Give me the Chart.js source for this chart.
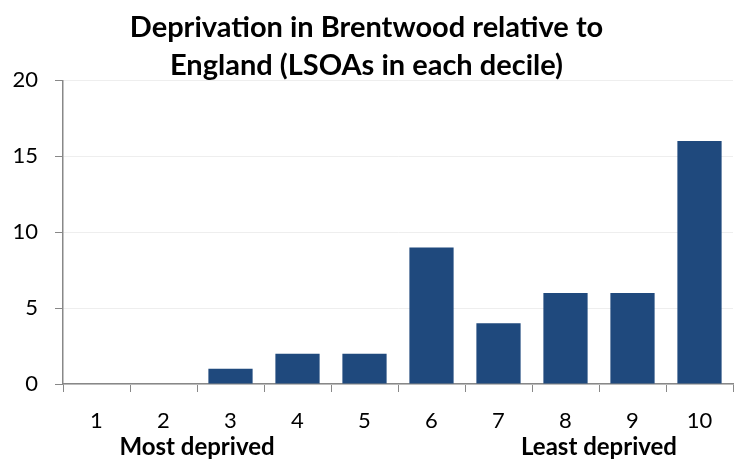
<!DOCTYPE html>
<html>
<head>
<meta charset="utf-8">
<script src="https://cdn.jsdelivr.net/npm/chart.js@4"></script>
<style>
  html, body { margin: 0; padding: 0; background: #fff; }
  #wrap { width: 744px; height: 459px; }
</style>
</head>
<body>
<div id="wrap"><canvas id="decileChart"></canvas></div>
<script>
const deciles = ["1", "2", "3", "4", "5", "6", "7", "8", "9", "10"]
const lsoaCounts = [0, 0, 1, 2, 2, 9, 4, 6, 6, 16]
const yTicks = [0, 5, 10, 15, 20]
const titleLines = ["Deprivation in Brentwood relative to", "England (LSOAs in each decile)"]
const endLabels = [
    { text: "Most deprived", between: [1, 2] },
    { text: "Least deprived", between: [7, 8] }
]

const fontName = "Lato, 'Liberation Sans', sans-serif"

// the two bold captions under the x axis
const endLabelPlugin = {
    id: "endLabels",
    afterDraw(chart) {
        let ctx = chart.ctx
        let x = chart.scales.x
        ctx.save()
        ctx.font = "bold 24px " + fontName
        ctx.fillStyle = "#000"
        ctx.textAlign = "center"
        ctx.textBaseline = "middle"
        endLabels.forEach(l => {
            let px = (x.getPixelForValue(l.between[0]) + x.getPixelForValue(l.between[1])) / 2
            ctx.fillText(l.text, px, 447)
        })
        ctx.restore()
    }
}

let decileChart = new Chart(document.getElementById("decileChart"), {
    type: "bar",
    data: {
        labels: deciles,
        datasets: [{
            label: "LSOAs",
            data: lsoaCounts,
            backgroundColor: "#1f497d",
            categoryPercentage: 1,
            barPercentage: 0.66
        }]
    },
    options: {
        responsive: true,
        maintainAspectRatio: false,
        animation: false,
        layout: { padding: { left: 0, right: 11, top: 0, bottom: 0 } },
        plugins: {
            legend: { display: false },
            tooltip: { enabled: false },
            title: {
                display: true,
                text: titleLines,
                color: "#000",
                font: { family: fontName, size: 29, weight: "bold", lineHeight: 1.3 },
                padding: { top: 9, bottom: -4 }
            }
        },
        scales: {
            x: {
                grid: { display: true, drawOnChartArea: false, color: "#888", tickLength: 8, offset: true },
                border: { color: "#888", width: 1.5 },
                ticks: { color: "#000", font: { family: fontName, size: 22 }, padding: 16 },
                afterFit(scale) { scale.height = 75 }
            },
            y: {
                min: 0,
                max: 20,
                afterBuildTicks(scale) { scale.ticks = yTicks.map(v => ({ value: v })) },
                grid: { color: "#eeeeee", tickLength: 8, tickColor: "#888" },
                border: { color: "#888", width: 1.5 },
                ticks: { color: "#000", font: { family: fontName, size: 22 }, padding: 17 },
                afterFit(scale) { scale.width = 63 }
            }
        }
    },
    plugins: [endLabelPlugin]
});
</script>
</body>
</html>
